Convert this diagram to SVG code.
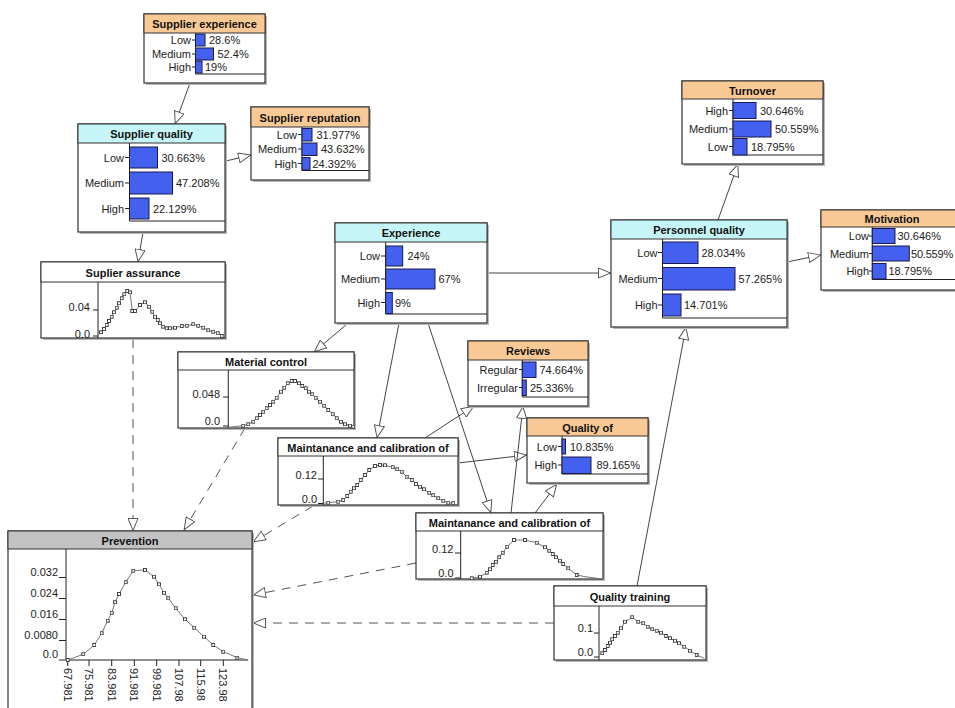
<svg xmlns="http://www.w3.org/2000/svg" width="955" height="708" viewBox="0 0 955 708">
<style>
text{font-family:"Liberation Sans",Arial,sans-serif;font-size:11px;fill:#222}
.t{font-weight:bold;text-anchor:middle;fill:#111}
.l{text-anchor:end}
.body{fill:#fff;stroke:#333;stroke-width:1.2}
.sh{fill:#b8b8b8}
.ho{fill:#f9c995;stroke:#333;stroke-width:1}
.hc{fill:#c6f5f7;stroke:#333;stroke-width:1}
.hg{fill:#c2c2c2;stroke:#333;stroke-width:1}
.ax{stroke:#222;stroke-width:1;fill:none}
.bar{fill:#4460ee;stroke:#1a1a50;stroke-width:1}
.cv{fill:none;stroke:#777;stroke-width:1;marker-start:url(#sq);marker-mid:url(#sq);marker-end:url(#sq)}
.c{fill:none;stroke:#444;stroke-width:1;marker-end:url(#ah)}
.d{fill:none;stroke:#555;stroke-width:1;stroke-dasharray:9,7;marker-end:url(#ah)}
</style>
<defs>
<marker id="ah" viewBox="0 0 13 11" refX="13" refY="5.5" markerWidth="13" markerHeight="11" markerUnits="userSpaceOnUse" orient="auto">
<path d="M0.5,0.5 L12.5,5.5 L0.5,10.5 Z" fill="#fff" stroke="#555" stroke-width="1"/>
</marker>
<marker id="sq" viewBox="0 0 4 4" refX="2" refY="2" markerWidth="4" markerHeight="4" markerUnits="userSpaceOnUse">
<rect x="0.5" y="0.5" width="3" height="3" fill="#fff" stroke="#333" stroke-width="0.9"/>
</marker>
</defs>
<rect width="955" height="708" fill="#fff"/>

<g id="connectors">
<line class="c" x1="190" y1="83" x2="175" y2="124"/>
<line class="c" x1="226" y1="161" x2="251" y2="155"/>
<line class="c" x1="143" y1="232" x2="138" y2="262"/>
<line class="d" x1="133" y1="339" x2="133" y2="531"/>
<line class="d" x1="245" y1="428" x2="184" y2="530"/>
<line class="d" x1="313" y1="506" x2="253" y2="542"/>
<line class="d" x1="416" y1="563" x2="253" y2="595"/>
<line class="d" x1="554" y1="623" x2="253" y2="623"/>
<line class="c" x1="487" y1="273" x2="611" y2="273"/>
<line class="c" x1="718" y1="220" x2="738" y2="164"/>
<line class="c" x1="787" y1="262" x2="821" y2="255"/>
<line class="c" x1="637" y1="586" x2="686" y2="327"/>
<line class="c" x1="347" y1="324" x2="314" y2="352"/>
<line class="c" x1="399" y1="323" x2="377" y2="438"/>
<line class="c" x1="428" y1="323" x2="491" y2="513"/>
<line class="c" x1="425" y1="438" x2="474" y2="406"/>
<line class="c" x1="458" y1="463" x2="527" y2="455"/>
<line class="c" x1="511" y1="513" x2="523" y2="406"/>
<line class="c" x1="535" y1="513" x2="557" y2="484"/>
</g>

<g id="supplier-experience">
<rect class="sh" x="146" y="16" width="121" height="69"/>
<rect class="body" x="144" y="14" width="121" height="69"/>
<rect class="ho" x="144" y="14" width="121" height="19"/>
<text class="t" x="204.5" y="28">Supplier experience</text>
<path class="ax" d="M195.5,33 V74 H265"/>
<rect class="bar" x="195.5" y="34" width="9.5" height="12"/>
<rect class="bar" x="195.5" y="48" width="18" height="12"/>
<rect class="bar" x="195.5" y="61" width="6.5" height="12"/>
<path class="ax" d="M192,40H195.5M192,54H195.5M192,67H195.5"/>
<text class="l" x="191" y="44">Low</text>
<text class="l" x="191" y="58">Medium</text>
<text class="l" x="191" y="71">High</text>
<text x="209" y="44">28.6%</text>
<text x="217.5" y="58">52.4%</text>
<text x="205" y="71">19%</text>
</g>

<g id="supplier-quality">
<rect class="sh" x="80" y="126" width="147" height="108"/>
<rect class="body" x="78" y="124" width="147" height="108"/>
<rect class="hc" x="78" y="124" width="147" height="19"/>
<text class="t" x="151.5" y="138">Supplier quality</text>
<path class="ax" d="M129.5,143 V221 H225"/>
<rect class="bar" x="129.5" y="147" width="28" height="21"/>
<rect class="bar" x="129.5" y="172" width="43" height="22"/>
<rect class="bar" x="129.5" y="198" width="19.5" height="21"/>
<path class="ax" d="M125,157.5H129.5M125,183H129.5M125,208.5H129.5"/>
<text class="l" x="124" y="161.5">Low</text>
<text class="l" x="124" y="187">Medium</text>
<text class="l" x="124" y="212.5">High</text>
<text x="161.5" y="161.5">30.663%</text>
<text x="176" y="187">47.208%</text>
<text x="153" y="212.5">22.129%</text>
</g>

<g id="supplier-reputation">
<rect class="sh" x="253" y="109" width="118" height="73"/>
<rect class="body" x="251" y="107" width="118" height="73"/>
<rect class="ho" x="251" y="107" width="118" height="20"/>
<text class="t" x="310" y="121.5">Supplier reputation</text>
<path class="ax" d="M302,127 V170.5 H369"/>
<rect class="bar" x="302" y="128.5" width="10" height="12.5"/>
<rect class="bar" x="302" y="143" width="15" height="12.5"/>
<rect class="bar" x="302" y="157.5" width="8" height="12.5"/>
<path class="ax" d="M298,134.5H302M298,149H302M298,163.5H302"/>
<text class="l" x="297" y="138.5">Low</text>
<text class="l" x="297" y="153">Medium</text>
<text class="l" x="297" y="167.5">High</text>
<text x="316.5" y="138.5">31.977%</text>
<text x="321" y="153">43.632%</text>
<text x="312.5" y="167.5">24.392%</text>
</g>

<g id="suplier-assurance">
<rect class="sh" x="43" y="264" width="184" height="76"/>
<rect class="body" x="41" y="262" width="184" height="76"/>
<rect fill="#fff" stroke="#333" stroke-width="1" x="41" y="262" width="184" height="20"/>
<text class="t" x="133" y="276.5">Suplier assurance</text>
<path class="ax" d="M98,282 V338"/>
<path class="ax" d="M93,310H98M93,336H98"/>
<text class="l" x="90" y="311">0.04</text>
<text class="l" x="90" y="338">0.0</text>
<polyline class="cv" points="101,332.3 104,329 106.7,325 109,321 111.7,316.7 114,312.3 116.7,307.7 119,303.3 121.7,298.3 124.3,294.3 127.3,291 130,292.3 132.3,311 135,311 140,305 145,302.3 149,306.7 152.3,311.7 155,316.7 157.7,320 160,323.3 163.3,326.7 166.7,328.3 170,328.3 175,327.7 181.7,326 186.7,325.7 193.3,324.3 198.3,325.7 203.3,327.7 208.3,330.3 213.3,331.7 217.7,333.3 221.7,336"/>
</g>

<g id="material-control">
<rect class="sh" x="180" y="354" width="176" height="76"/>
<rect class="body" x="178" y="352" width="176" height="76"/>
<rect fill="#fff" stroke="#333" stroke-width="1" x="178" y="352" width="176" height="18"/>
<text class="t" x="266" y="365.5">Material control</text>
<path class="ax" d="M228.3,370 V428"/>
<path class="ax" d="M223,397H228.3M223,426H228.3"/>
<text class="l" x="220" y="397.5">0.048</text>
<text class="l" x="220" y="425">0.0</text>
<polyline fill="none" stroke="#777" points="228.3,427.3 243.3,425.7"/>
<polyline class="cv" points="243.3,425.7 248.3,424.3 253.3,421.7 256.7,418.3 260,415 263.3,411.7 266.7,408.3 270,405 273.3,401.7 276.7,397.7 281,391.7 284.3,387.7 287.7,383.3 291.7,381 295,381 299,383.3 302.3,386 305.7,388.3 309,391.7 312.3,394.3 315.7,397.7 320,401.7 324.3,405.7 328.3,410 332.7,414.3 336.7,418.3 341,421.7 345,424.3 350,425.7 353.3,426.7"/>
</g>

<g id="experience">
<rect class="sh" x="337" y="225" width="152" height="100"/>
<rect class="body" x="335" y="223" width="152" height="100"/>
<rect class="hc" x="335" y="223" width="152" height="19"/>
<text class="t" x="411" y="237">Experience</text>
<path class="ax" d="M385.7,242 V314 H487"/>
<rect class="bar" x="385.7" y="246" width="17" height="20"/>
<rect class="bar" x="385.7" y="269" width="49.3" height="20"/>
<rect class="bar" x="385.7" y="292.5" width="6.6" height="21"/>
<path class="ax" d="M381,256H385.7M381,279H385.7M381,302.5H385.7"/>
<text class="l" x="380" y="260">Low</text>
<text class="l" x="380" y="283">Medium</text>
<text class="l" x="380" y="306.5">High</text>
<text x="407.5" y="260">24%</text>
<text x="438.5" y="283">67%</text>
<text x="395" y="306.5">9%</text>
</g>

<g id="turnover">
<rect class="sh" x="684" y="83" width="141" height="83"/>
<rect class="body" x="682" y="81" width="141" height="83"/>
<rect class="ho" x="682" y="81" width="141" height="18"/>
<text class="t" x="752.5" y="94.5">Turnover</text>
<path class="ax" d="M733,99 V155 H823"/>
<rect class="bar" x="733" y="102.5" width="23" height="16"/>
<rect class="bar" x="733" y="121" width="38" height="16"/>
<rect class="bar" x="733" y="138.5" width="14" height="16.5"/>
<path class="ax" d="M729,110.5H733M729,129H733M729,146.5H733"/>
<text class="l" x="728" y="114.5">High</text>
<text class="l" x="728" y="133">Medium</text>
<text class="l" x="728" y="150.5">Low</text>
<text x="760" y="114.5">30.646%</text>
<text x="775" y="133">50.559%</text>
<text x="751" y="150.5">18.795%</text>
</g>

<g id="personnel-quality">
<rect class="sh" x="613" y="222" width="176" height="107"/>
<rect class="body" x="611" y="220" width="176" height="107"/>
<rect class="hc" x="611" y="220" width="176" height="19"/>
<text class="t" x="699" y="234">Personnel quality</text>
<path class="ax" d="M662.5,239 V318 H787"/>
<rect class="bar" x="662.5" y="242" width="35.5" height="21.5"/>
<rect class="bar" x="662.5" y="267.5" width="72.5" height="22.5"/>
<rect class="bar" x="662.5" y="294" width="18.5" height="22"/>
<path class="ax" d="M658,252.5H662.5M658,278.5H662.5M658,305H662.5"/>
<text class="l" x="657.5" y="256.5">Low</text>
<text class="l" x="657.5" y="282.5">Medium</text>
<text class="l" x="657.5" y="309">High</text>
<text x="701.5" y="256.5">28.034%</text>
<text x="738.5" y="282.5">57.265%</text>
<text x="684" y="309">14.701%</text>
</g>

<g id="motivation">
<rect class="sh" x="823" y="212" width="142" height="80"/>
<rect class="body" x="821" y="210" width="142" height="80"/>
<rect class="ho" x="821" y="210" width="142" height="17"/>
<text class="t" x="892" y="223">Motivation</text>
<path class="ax" d="M872.3,227 V279.5 H963"/>
<rect class="bar" x="872.3" y="228.5" width="22.7" height="15"/>
<rect class="bar" x="872.3" y="246" width="37" height="15"/>
<rect class="bar" x="872.3" y="263.5" width="13.7" height="15.5"/>
<path class="ax" d="M869,236H872.3M869,253.5H872.3M869,271H872.3"/>
<text class="l" x="869" y="240">Low</text>
<text class="l" x="869" y="257.5">Medium</text>
<text class="l" x="869" y="275">High</text>
<text x="897.5" y="240">30.646%</text>
<text x="911" y="257.5" letter-spacing="-0.2">50.559%</text>
<text x="888.5" y="275">18.795%</text>
</g>

<g id="reviews">
<rect class="sh" x="470" y="343" width="120" height="65"/>
<rect class="body" x="468" y="341" width="120" height="65"/>
<rect class="ho" x="468" y="341" width="120" height="19"/>
<text class="t" x="528" y="355">Reviews</text>
<path class="ax" d="M522.3,360 V397 H588"/>
<rect class="bar" x="522.3" y="362" width="13.7" height="15.5"/>
<rect class="bar" x="522.3" y="380" width="4" height="15.5"/>
<path class="ax" d="M519,369.5H522.3M519,387.5H522.3"/>
<text class="l" x="518" y="373.5">Regular</text>
<text class="l" x="518" y="391.5">Irregular</text>
<text x="539.5" y="373.5">74.664%</text>
<text x="530" y="391.5">25.336%</text>
</g>

<g id="quality-of">
<rect class="sh" x="529" y="420" width="121" height="65"/>
<rect class="body" x="527" y="418" width="121" height="65"/>
<rect class="ho" x="527" y="418" width="121" height="18"/>
<text class="t" x="587.5" y="431.5">Quality of</text>
<path class="ax" d="M562,436 V474 H648"/>
<rect class="bar" x="562" y="439" width="3.5" height="15"/>
<rect class="bar" x="562" y="457" width="29" height="16.5"/>
<path class="ax" d="M558,446.5H562M558,465H562"/>
<text class="l" x="557" y="450.5">Low</text>
<text class="l" x="557" y="469">High</text>
<text x="570" y="450.5">10.835%</text>
<text x="596.5" y="469">89.165%</text>
</g>

<g id="maintanance-1">
<rect class="sh" x="280" y="440" width="180" height="67"/>
<rect class="body" x="278" y="438" width="180" height="67"/>
<rect fill="#fff" stroke="#333" stroke-width="1" x="278" y="438" width="180" height="18"/>
<text class="t" x="368" y="451.5">Maintanance and calibration of</text>
<path class="ax" d="M323.3,456 V505"/>
<path class="ax" d="M318,479H323.3M318,503.5H323.3"/>
<text class="l" x="317" y="478.5">0.12</text>
<text class="l" x="317" y="503">0.0</text>
<polyline fill="none" stroke="#777" points="323.3,503.3 328.3,502.7"/>
<polyline class="cv" points="328.3,502.7 338.3,501.7 343.3,500 347.3,496 350.7,491.7 354,488.3 357.3,485 360.7,480 365,475 369.3,470 375,466 380,465 385,465.3 392.7,467.3 397.3,469.3 401.7,471.7 406.7,476.7 411.7,480 416,484 420,486.7 424,489.3 429.3,492.7 433.3,495.3 438.3,498.3 443.3,500.7 448.3,502.7 453.3,503.3"/>
</g>

<g id="maintanance-2">
<rect class="sh" x="418" y="515" width="187" height="66"/>
<rect class="body" x="416" y="513" width="187" height="66"/>
<rect fill="#fff" stroke="#333" stroke-width="1" x="416" y="513" width="187" height="18"/>
<text class="t" x="509.5" y="526.5">Maintanance and calibration of</text>
<path class="ax" d="M460.7,531 V579"/>
<path class="ax" d="M455,553H460.7M455,578H460.7"/>
<text class="l" x="453.5" y="552.5">0.12</text>
<text class="l" x="453.5" y="577">0.0</text>
<polyline fill="none" stroke="#777" points="460.7,579 471.7,578.3"/>
<polyline class="cv" points="471.7,578.3 480,576.7 486.7,572.7 490,569.3 492.7,565 496,561.7 499.3,557.3 502.7,552.7 507.3,546.7 514,540 525,540 536.7,542.7 545,547.3 549.3,550.7 552.7,554 556,557.3 560,560.7 563.3,564 568.3,568.3 576.7,575"/>
<polyline fill="none" stroke="#777" points="576.7,575 585,576.7 603,579"/>
</g>

<g id="quality-training">
<rect class="sh" x="556" y="588" width="152" height="74"/>
<rect class="body" x="554" y="586" width="152" height="74"/>
<rect fill="#fff" stroke="#333" stroke-width="1" x="554" y="586" width="152" height="20"/>
<text class="t" x="630" y="600.5">Quality training</text>
<path class="ax" d="M599,606 V660"/>
<path class="ax" d="M594,633H599M594,657H599"/>
<text class="l" x="593" y="632">0.1</text>
<text class="l" x="593" y="656">0.0</text>
<polyline class="cv" points="602.3,653.3 605,650 607.7,646 610,642.7 612.3,639.3 615,636 617.7,632.7 621,628.3 625,621.7 632.3,617.3 638.3,621.7 643.3,623.3 647.7,626.7 652.3,629.3 656.7,630.7 661,632.7 665.7,636 670,638.3 675,640.7 679,643.3 684.3,646.7 690,650.7 696.7,655"/>
<polyline fill="none" stroke="#777" points="696.7,655 704.3,658.3"/>
</g>

<g id="prevention">
<rect class="sh" x="10" y="533" width="244" height="190"/>
<rect class="body" x="8" y="531" width="244" height="190"/>
<rect class="hg" x="8" y="531" width="244" height="18"/>
<text class="t" x="130" y="544.5">Prevention</text>
<path class="ax" d="M66,549 V660 H248"/>
<path class="ax" d="M59,577.5H66M59,598.5H66M59,619.5H66M59,640.5H66M59,660H66"/>
<text class="l" x="58" y="576">0.032</text>
<text class="l" x="58" y="597">0.024</text>
<text class="l" x="58" y="618">0.016</text>
<text class="l" x="58" y="639">0.0080</text>
<text class="l" x="58" y="658">0.0</text>
<path class="ax" d="M67.7,660V666M89,660V666M111.7,660V666M134.3,660V666M156.7,660V666M179,660V666M200.7,660V666M223.3,660V666"/>
<text transform="translate(63.8,668) rotate(90)">67.981</text>
<text transform="translate(85.1,668) rotate(90)">75.981</text>
<text transform="translate(107.8,668) rotate(90)">83.981</text>
<text transform="translate(130.4,668) rotate(90)">91.981</text>
<text transform="translate(152.8,668) rotate(90)">99.981</text>
<text transform="translate(175.1,668) rotate(90)">107.98</text>
<text transform="translate(196.8,668) rotate(90)">115.98</text>
<text transform="translate(219.4,668) rotate(90)">123.98</text>
<polyline class="cv" points="67.7,660 83.3,654.3 94.3,645 101.7,633.3 107.7,620.7 111.7,612.7 115,602.3 119,594 125.7,582.3 133.3,570.7 145,570 154,576.7 159,584.3 164,592.7 168.3,598.3 175.7,608.3 185,619.3 194.3,627.7 204,636.7 213.3,645 223.3,651.7 237.3,657.7"/>
<polyline fill="none" stroke="#777" points="237.3,657.7 248.3,660"/>
</g>
</svg>
